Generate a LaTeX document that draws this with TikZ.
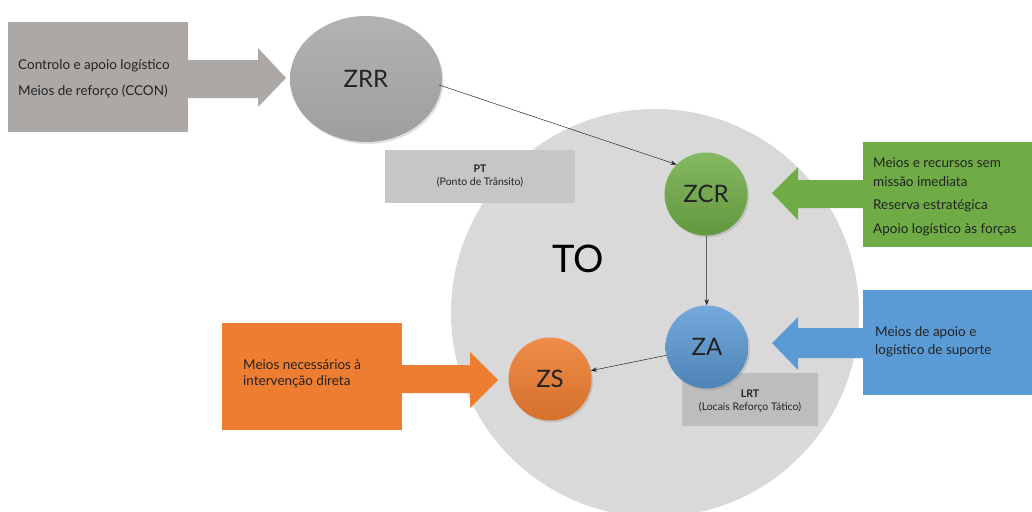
\documentclass[tikz,border=0pt]{standalone}
\usepackage{fontspec}
\setmainfont{Lato}
\usetikzlibrary{arrows.meta,shadows,shapes.geometric}
\definecolor{bigc}{HTML}{D9D9D9}
\definecolor{greybox}{HTML}{ABA8A6}
\definecolor{ptbox}{HTML}{C6C6C6}
\definecolor{lrtbox}{HTML}{BDBDBD}
\definecolor{gr}{HTML}{6FAC46}
\definecolor{bl}{HTML}{5B9BD5}
\definecolor{og}{HTML}{ED7D31}
\definecolor{txtc}{HTML}{222222}
\tikzset{
  boxtxt/.style={anchor=west, inner sep=0pt, text=txtc, font=\fontsize{13.5}{15}\selectfont},
  zone/.style={circle, minimum size=83pt, inner sep=0pt, text=txtc,
    font=\fontsize{24}{26}\selectfont, drop shadow={opacity=0.25, shadow xshift=1.5pt, shadow yshift=-2pt}},
  rectbox/.style={rectangle, inner sep=0pt, draw=none},
  link/.style={draw=black!85, line width=0.5pt, -{Stealth[length=6pt,width=4.5pt]}},
  smalllbl/.style={align=center, text=txtc, font=\fontsize{10.5}{13}\selectfont}
}
\begin{document}
\begin{tikzpicture}[x=1pt,y=-1pt]
\useasboundingbox (0,0) rectangle (1032,511);
% big theatre circle
\fill[bigc] (655,313) circle (204pt);
\node[font=\fontsize{38}{40}\selectfont, text=black] (to) at (578,259) {TO};

% grey input box and arrow
\node[rectbox, fill=greybox, minimum width=180pt, minimum height=110pt] (ctrlbox) at (98,77) {};
\fill[greybox] (188,60) -- (258,60) -- (258,48) -- (286,78) -- (258,107) -- (258,98) -- (188,98) -- cycle;
\node[boxtxt] (c1) at (18,66) {Controlo e apoio logístico};
\node[boxtxt] (c2) at (18,91) {Meios de reforço (CCON)};

% ZRR
\node[ellipse, minimum width=152pt, minimum height=126pt, inner sep=0pt, top color=black!30, bottom color=black!38,
  text=txtc, font=\fontsize{24}{26}\selectfont, drop shadow={opacity=0.25, shadow xshift=1.5pt, shadow yshift=-2pt}] (zrr) at (366,79) {ZRR};

% PT box
\node[rectbox, fill=ptbox, minimum width=190pt, minimum height=53pt] (pt) at (480,176) {};
\node[smalllbl] (ptl) at (480,176) {\textbf{PT}\\(Ponto de Trânsito)};

% green box & arrow
\node[rectbox, fill=gr, minimum width=172pt, minimum height=105pt, anchor=north west] (gbox) at (863,142) {};
\fill[gr] (864,180) -- (798,180) -- (798,167) -- (772,193) -- (798,220) -- (798,208) -- (864,208) -- cycle;
\node[boxtxt] (g1) at (873,163) {Meios e recursos sem};
\node[boxtxt] (g2) at (873,182) {missão imediata};
\node[boxtxt] (g3) at (873,206) {Reserva estratégica};
\node[boxtxt] (g4) at (873,230) {Apoio logístico às forças};

% blue box & arrow
\node[rectbox, fill=bl, minimum width=172pt, minimum height=105pt, anchor=north west] (bbox) at (863,290) {};
\fill[bl] (864,328) -- (798,328) -- (798,317) -- (772,343) -- (798,370) -- (798,358) -- (864,358) -- cycle;
\node[boxtxt] (b1) at (875,333) {Meios de apoio e};
\node[boxtxt] (b2) at (875,351) {logístico de suporte};

% orange box & arrow
\node[rectbox, fill=og, minimum width=180pt, minimum height=107pt, anchor=north west] (obox) at (222,323) {};
\fill[og] (401,365) -- (470,365) -- (470,352) -- (498,380) -- (470,408) -- (470,393) -- (401,393) -- cycle;
\node[boxtxt] (o1) at (243,365) {Meios necessários à};
\node[boxtxt] (o2) at (243,382) {intervenção direta};

% LRT box
\node[rectbox, fill=lrtbox, minimum width=136pt, minimum height=53pt] (lrt) at (750,399) {};

% zones
\node[zone, top color=gr!85!white, bottom color=gr!88!black] (zcr) at (706,194) {ZCR};
\node[zone, top color=bl!85!white, bottom color=bl!85!black] (za) at (707,347) {ZA};
\node[zone, top color=og!88!white, bottom color=og!90!black] (zs) at (550,379) {ZS};

\node[smalllbl] (lrtl) at (750,401) {\textbf{LRT}\\(Locais Reforço Tático)};

% connectors
\path (zrr.east) ++(-3pt,-6pt) coordinate (zrrout);
\draw[link] (zrrout) -- (zcr.north west);
\draw[link] (zcr) -- (za);
\draw[link] (za) -- (zs);
\end{tikzpicture}
\end{document}
